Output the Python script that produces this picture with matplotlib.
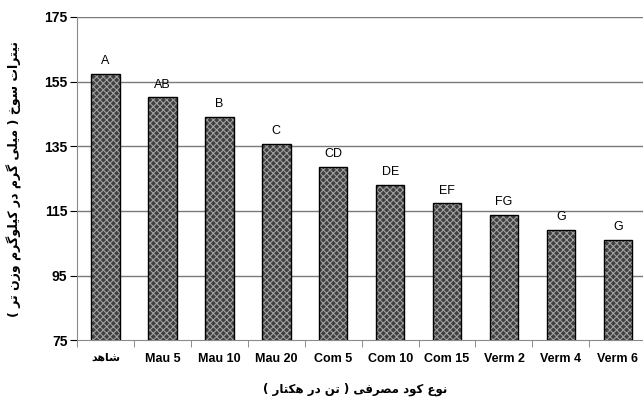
import matplotlib
matplotlib.use("Agg")
import matplotlib.pyplot as plt
import numpy as np

# --- data ---
categories = ["شاهد", "Mau 5", "Mau 10", "Mau 20", "Com 5", "Com 10", "Com 15",
              "Verm 2", "Verm 4", "Verm 6"]
nitrate = [157.3, 150.1, 144.2, 135.6, 128.5, 122.9, 117.3, 113.6, 109.2, 106.1]
groups = ["A", "AB", "B", "C", "CD", "DE", "EF", "FG", "G", "G"]
yticks = [75, 95, 115, 135, 155, 175]
xlabel = "نوع کود مصرفی ( تن در هکتار )"
ylabel = "نیترات سوخ ( میلی گرم در کیلوگرم وزن تر )"

# small Persian shaper (joining forms + right-to-left order)
FORMS = {
    "ن": "\uFEE5\uFEE6\uFEE7\uFEE8", "ی": "\uFBFC\uFBFD\uFBFE\uFBFF",
    "ت": "\uFE95\uFE96\uFE97\uFE98", "س": "\uFEB1\uFEB2\uFEB3\uFEB4",
    "خ": "\uFEA5\uFEA6\uFEA7\uFEA8", "م": "\uFEE1\uFEE2\uFEE3\uFEE4",
    "ل": "\uFEDD\uFEDE\uFEDF\uFEE0", "گ": "\uFB92\uFB93\uFB94\uFB95",
    "ک": "\uFB8E\uFB8F\uFB90\uFB91", "ع": "\uFEC9\uFECA\uFECB\uFECC",
    "ص": "\uFEB9\uFEBA\uFEBB\uFEBC", "ف": "\uFED1\uFED2\uFED3\uFED4",
    "ه": "\uFEE9\uFEEA\uFEEB\uFEEC", "ش": "\uFEB5\uFEB6\uFEB7\uFEB8",
    "ر": "\uFEAD\uFEAE", "ا": "\uFE8D\uFE8E", "و": "\uFEED\uFEEE",
    "د": "\uFEA9\uFEAA", "ز": "\uFEAF\uFEB0",
}
MIRROR = {"(": ")", ")": "("}


def shape(s):
    if s.isascii():
        return s
    out = []
    for i, ch in enumerate(s):
        if ch not in FORMS:
            out.append(MIRROR.get(ch, ch))
            continue
        prev = s[i - 1] if i > 0 else ""
        nxt = s[i + 1] if i + 1 < len(s) else ""
        join_prev = prev in FORMS and len(FORMS[prev]) == 4
        join_next = nxt in FORMS and len(FORMS[ch]) == 4
        f = FORMS[ch]
        if join_prev and join_next:
            out.append(f[3])
        elif join_prev:
            out.append(f[1])
        elif join_next:
            out.append(f[2])
        else:
            out.append(f[0])
    return "".join(out[::-1])


plt.rcParams['font.family'] = ['Liberation Sans', 'DejaVu Sans']
plt.rcParams['hatch.linewidth'] = 0.8

fig = plt.figure(figsize=(6.43, 4.04), dpi=100)
ax = fig.add_axes([0.12, 0.158, 0.885, 0.8])

x = np.arange(len(categories))
ax.bar(x, nitrate, width=0.5, color="#404040", edgecolor="#a0a0a0",
       hatch="xxxxx", linewidth=0, zorder=3)
ax.bar(x, nitrate, width=0.5, fill=False, edgecolor="black", linewidth=1.0, zorder=4)

for xi, v, g in zip(x, nitrate, groups):
    ax.annotate(g, (xi, v), xytext=(0, 5), textcoords="offset points",
                ha="center", va="bottom", fontsize=9)

ax.set_ylim(75, 175)
ax.set_xlim(-0.5, len(categories) - 0.5)
ax.set_yticks(yticks)
ax.set_yticklabels([str(t) for t in yticks], fontsize=10, fontweight="bold")
for t in yticks[1:]:
    ax.axhline(t, color="#7a7a7a", linewidth=1.0, zorder=1)

ax.set_xticks(x)
ax.set_xticklabels([shape(c) for c in categories], fontsize=9, fontweight="bold")
for lbl, c in zip(ax.get_xticklabels(), categories):
    if not c.isascii():
        lbl.set_family(['DejaVu Sans'])
        lbl.set_fontsize(8)
ax.set_xticks(np.arange(len(categories) + 1) - 0.5, minor=True)
ax.tick_params(axis="x", which="major", length=0, pad=9)
ax.tick_params(axis="x", which="minor", length=5, color="#7a7a7a", direction="out")
ax.tick_params(axis="y", length=5, color="black", direction="out", pad=2)

for side in ["top", "right"]:
    ax.spines[side].set_visible(False)
ax.spines["left"].set_color("#8a8a8a")
ax.spines["bottom"].set_color("#8a8a8a")

ax.set_xlabel(shape(xlabel), fontsize=8.5, fontweight="bold", family=['DejaVu Sans'])
ax.xaxis.set_label_coords(0.488, -0.13)
ax.set_ylabel(shape(ylabel), fontsize=9, fontweight="bold", family=['DejaVu Sans'],
              labelpad=16)

fig.savefig("out.png", dpi=100)
